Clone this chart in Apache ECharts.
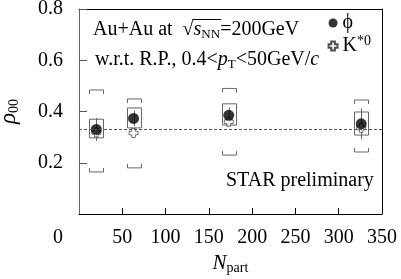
<!DOCTYPE html>
<html>
<head>
<meta charset="utf-8">
<script src="https://cdn.jsdelivr.net/npm/echarts@6/dist/echarts.min.js"></script>
<style>
  html, body { margin: 0; padding: 0; background: #fff; }
  #chart { width: 401px; height: 279px; }
</style>
</head>
<body>
<div id="chart"></div>
<script>
// values
const npart = [20, 63, 173, 326];
const phiRho = [0.330, 0.373, 0.385, 0.352];
const phiStat = [0.045, 0.03, 0.03, 0.06];
const kstarRho = [0.318, 0.316, 0.360, 0.336];
const sysLow = [0.297, 0.336, 0.347, 0.308];
const sysHigh = [0.370, 0.414, 0.430, 0.398];
const capLow = [0.164, 0.180, 0.230, 0.242];
const capHigh = [0.484, 0.449, 0.490, 0.445];
const xTicks = [0, 50, 100, 150, 200, 250, 300, 350];
const yTicks = [0, 0.2, 0.4, 0.6, 0.8];
const refLine = 1 / 3;

const serif = 'Liberation Serif';
const fs = 20;
const chart = echarts.init(document.getElementById('chart'));

// measure text so the overline of the square root sits over s_NN
const ctx = document.createElement('canvas').getContext('2d');
ctx.font = fs + 'px "Liberation Serif"';
const line1Left = 93;
const rootStart = line1Left + ctx.measureText('Au+Au at  √').width;
ctx.font = 'italic ' + fs + 'px "Liberation Serif"';
const sW = ctx.measureText('s').width;
ctx.font = '13px "Liberation Serif"';
const nnW = ctx.measureText('NN').width;

const sysData = npart.map((n, i) => [n, sysLow[i], sysHigh[i], capLow[i], capHigh[i],
  phiRho[i] - phiStat[i], phiRho[i] + phiStat[i]]);

function renderSys(params, api) {
  const x = api.value(0);
  const boxLo = api.coord([x, api.value(1)]);
  const boxHi = api.coord([x, api.value(2)]);
  const cLo = api.coord([x, api.value(3)]);
  const cHi = api.coord([x, api.value(4)]);
  const eLo = api.coord([x, api.value(5)]);
  const eHi = api.coord([x, api.value(6)]);
  const cx = Math.round(boxLo[0]) + 0.5;
  const w = 7, leg = 4;
  const gray = '#666';
  return {
    type: 'group',
    children: [
      { type: 'line', shape: { x1: cx, y1: eLo[1], x2: cx, y2: eHi[1] }, style: { stroke: gray, lineWidth: 1 } },
      { type: 'rect', shape: { x: cx - w, y: boxHi[1], width: 2 * w, height: boxLo[1] - boxHi[1] },
        style: { fill: 'none', stroke: gray, lineWidth: 1 } },
      { type: 'polyline', shape: { points: [[cx - w, cHi[1] + leg], [cx - w, cHi[1]], [cx + w, cHi[1]], [cx + w, cHi[1] + leg]] },
        style: { fill: 'none', stroke: gray, lineWidth: 1 } },
      { type: 'polyline', shape: { points: [[cx - w, cLo[1] - leg], [cx - w, cLo[1]], [cx + w, cLo[1]], [cx + w, cLo[1] - leg]] },
        style: { fill: 'none', stroke: gray, lineWidth: 1 } }
    ]
  };
}

const plusPath = 'path://M3,0 H7 V3 H10 V7 H7 V10 H3 V7 H0 V3 H3 Z';

chart.setOption({
  animation: false,
  grid: { left: 79, right: 19, top: 9, bottom: 65, outerBoundsMode: 'none' },
  legend: {
    orient: 'vertical',
    right: 25,
    top: 8,
    itemWidth: 9,
    itemHeight: 9,
    itemGap: 1,
    data: ['phi', 'kstar'],
    formatter: name => name === 'phi' ? '{t|ϕ}' : '{t|K}{sup|*0}',
    textStyle: {
      fontFamily: serif, fontSize: fs, color: '#000',
      rich: {
        t: { fontFamily: serif, fontSize: fs, color: '#000' },
        sup: { fontFamily: serif, fontSize: 14, color: '#000', padding: [0, 0, 10, 0] }
      }
    }
  },
  xAxis: [{
    type: 'value',
    min: xTicks[0],
    max: xTicks[xTicks.length - 1],
    interval: 50,
    name: '{i|N}{sub|part}',
    nameLocation: 'middle',
    nameGap: 36,
    nameTextStyle: {
      rich: {
        i: { fontFamily: serif, fontSize: 21, fontStyle: 'italic', color: '#000' },
        sub: { fontFamily: serif, fontSize: 14, color: '#000', padding: [10, 0, 0, 0] }
      }
    },
    axisLine: { lineStyle: { color: '#000', width: 1 } },
    axisTick: { inside: true, length: 6, lineStyle: { color: '#000' } },
    axisLabel: { showMinLabel: false, margin: 14, fontFamily: serif, fontSize: fs, color: '#000' },
    splitLine: { show: false }
  }, {
    type: 'value', position: 'top', min: 0, max: 350,
    axisLine: { show: true, onZero: false, lineStyle: { color: '#000' } },
    axisTick: { show: false }, axisLabel: { show: false }, splitLine: { show: false }
  }],
  yAxis: [{
    type: 'value',
    min: yTicks[0],
    max: yTicks[yTicks.length - 1],
    interval: 0.2,
    name: '{i|ρ}{sub|00}',
    nameLocation: 'middle',
    nameRotate: 90,
    nameGap: 58,
    nameTextStyle: {
      rich: {
        i: { fontFamily: serif, fontSize: 23, fontStyle: 'italic', color: '#000' },
        sub: { fontFamily: serif, fontSize: 14, color: '#000', padding: [10, 0, 0, 0] }
      }
    },
    axisLine: { show: true, lineStyle: { color: '#666', width: 1 } },
    axisTick: { inside: true, length: 8, lineStyle: { color: '#555' } },
    axisLabel: { showMinLabel: false, margin: 16, fontFamily: serif, fontSize: fs, color: '#000',
      formatter: v => v.toFixed(1) },
    splitLine: { show: false }
  }, {
    type: 'value', position: 'right', min: 0, max: 0.8,
    axisLine: { show: true, onZero: false, lineStyle: { color: '#000' } },
    axisTick: { show: false }, axisLabel: { show: false }, splitLine: { show: false }
  }],
  series: [
    {
      type: 'custom',
      renderItem: renderSys,
      data: sysData,
      encode: { x: 0, y: [1, 2, 3, 4] },
      silent: true,
      z: 1,
      markLine: {
        silent: true,
        symbol: 'none',
        label: { show: false },
        lineStyle: { color: '#555', type: [3, 2], width: 1 },
        data: [{ yAxis: refLine }]
      }
    },
    {
      name: 'kstar',
      type: 'scatter',
      symbol: plusPath,
      symbolSize: 9,
      itemStyle: { color: '#fff', borderColor: '#222', borderWidth: 0.8 },
      data: npart.map((n, i) => [n, kstarRho[i]]),
      z: 3
    },
    {
      name: 'phi',
      type: 'scatter',
      symbol: 'circle',
      symbolSize: 11,
      itemStyle: { color: '#000' },
      data: npart.map((n, i) => [n, phiRho[i]]),
      z: 4
    }
  ],
  graphic: [
    { type: 'text', left: 53, top: 228, style: { text: '0', font: fs + 'px "Liberation Serif"', fill: '#000' } },
    {
      type: 'text', left: line1Left, top: 20,
      style: {
        text: '{n|Au+Au at  √}{i|s}{sub|NN}{n|=200GeV}',
        rich: {
          n: { fontFamily: serif, fontSize: fs, fill: '#000' },
          i: { fontFamily: serif, fontSize: fs, fontStyle: 'italic', fill: '#000' },
          sub: { fontFamily: serif, fontSize: 13, fill: '#000', padding: [10, 0, 0, 0] }
        }
      }
    },
    { type: 'line', shape: { x1: rootStart - 1, y1: 19.5, x2: rootStart + sW + nnW + 1, y2: 19.5 },
      style: { stroke: '#000', lineWidth: 1 } },
    {
      type: 'text', left: 95, top: 50,
      style: {
        text: '{n|w.r.t. R.P., 0.4<}{i|p}{sub|T}{n|<50GeV/}{i|c}',
        rich: {
          n: { fontFamily: serif, fontSize: fs, fill: '#000' },
          i: { fontFamily: serif, fontSize: fs, fontStyle: 'italic', fill: '#000' },
          sub: { fontFamily: serif, fontSize: 13, fill: '#000', padding: [10, 0, 0, 0] }
        }
      }
    },
    { type: 'text', left: 226, top: 171, style: { text: 'STAR preliminary', font: fs + 'px "Liberation Serif"', fill: '#000' } }
  ]
});
</script>
</body>
</html>
